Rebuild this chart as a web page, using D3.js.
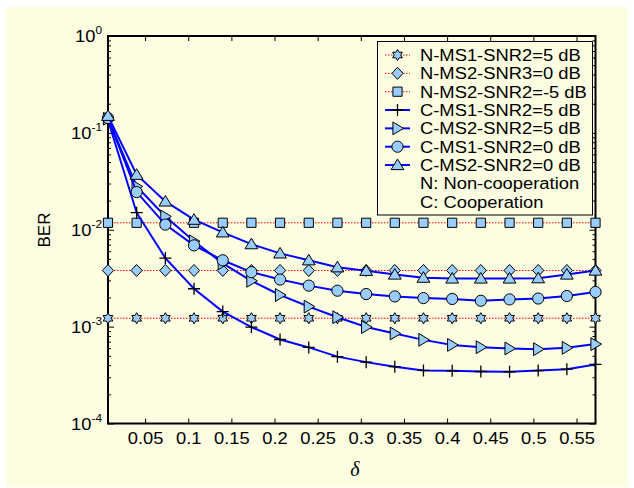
<!DOCTYPE html>
<html>
<head>
<meta charset="utf-8">
<script src="https://cdn.jsdelivr.net/npm/d3@7"></script>
<style>
  body { margin: 0; background: #ffffff; }
  text { font-family: 'Liberation Sans', Arial, sans-serif; }
</style>
</head>
<body>
<div id="chart"></div>
<script>
var width = 634;
var height = 488;
var plotLeft = 108;
var plotRight = 595.5;
var plotTop = 36;
var plotBottom = 423.5;
var bgColor = '#fdfde2';
var faceColor = '#99ccff';
var coopColor = '#0000ff';
var nonCoopColor = '#ff0000';
var textStretch = 'scale(1.08,1)'; // glyphs in the original are a bit wide

// delta values of the 18 simulation points
var delta = [0.0070, 0.0402, 0.0735, 0.1067, 0.1400, 0.1732, 0.2064, 0.2397, 0.2729,
             0.3062, 0.3394, 0.3726, 0.4059, 0.4391, 0.4724, 0.5056, 0.5388, 0.5720];

// non-cooperation (flat)
var berNMs1Snr5 = [1.22e-3, 1.22e-3, 1.22e-3, 1.22e-3, 1.22e-3, 1.22e-3, 1.22e-3, 1.22e-3, 1.22e-3,
                   1.22e-3, 1.22e-3, 1.22e-3, 1.22e-3, 1.22e-3, 1.22e-3, 1.22e-3, 1.22e-3, 1.22e-3];
var berNMs2Snr0 = [3.8e-3, 3.8e-3, 3.8e-3, 3.8e-3, 3.8e-3, 3.8e-3, 3.8e-3, 3.8e-3, 3.8e-3,
                   3.8e-3, 3.8e-3, 3.8e-3, 3.8e-3, 3.8e-3, 3.8e-3, 3.8e-3, 3.8e-3, 3.8e-3];
var berNMs2SnrM5 = [1.18e-2, 1.18e-2, 1.18e-2, 1.18e-2, 1.18e-2, 1.18e-2, 1.18e-2, 1.18e-2, 1.18e-2,
                    1.18e-2, 1.18e-2, 1.18e-2, 1.18e-2, 1.18e-2, 1.18e-2, 1.18e-2, 1.18e-2, 1.18e-2];

// cooperation
var berCMs1Snr5 = [0.135, 1.5e-2, 5.1e-3, 2.46e-3, 1.43e-3, 9.9e-4, 7.36e-4, 6.1e-4, 4.9e-4,
                   4.3e-4, 3.86e-4, 3.53e-4, 3.5e-4, 3.44e-4, 3.42e-4, 3.52e-4, 3.64e-4, 4.07e-4];
var berCMs2Snr5 = [0.14, 2.8e-2, 1.37e-2, 7.6e-3, 4.5e-3, 2.97e-3, 2.12e-3, 1.61e-3, 1.25e-3,
                   9.9e-4, 8.5e-4, 7.3e-4, 6.47e-4, 6.13e-4, 5.95e-4, 5.85e-4, 6.04e-4, 6.6e-4];
var berCMs1Snr0 = [0.142, 2.45e-2, 1.13e-2, 6.9e-3, 4.84e-3, 3.65e-3, 3.06e-3, 2.65e-3, 2.35e-3,
                   2.17e-3, 2.05e-3, 1.97e-3, 1.93e-3, 1.85e-3, 1.91e-3, 1.95e-3, 2.07e-3, 2.28e-3];
var berCMs2Snr0 = [0.15, 3.7e-2, 1.96e-2, 1.27e-2, 9.4e-3, 7.1e-3, 5.7e-3, 4.84e-3, 4.1e-3,
                   3.77e-3, 3.45e-3, 3.2e-3, 3.14e-3, 3.14e-3, 3.14e-3, 3.16e-3, 3.45e-3, 3.79e-3];

var seriesNames = ['N-MS1-SNR2=5 dB', 'N-MS2-SNR3=0 dB', 'N-MS2-SNR2=-5 dB',
                   'C-MS1-SNR2=5 dB', 'C-MS2-SNR2=5 dB', 'C-MS1-SNR2=0 dB', 'C-MS2-SNR2=0 dB'];
var seriesMarkers = ['hexagram', 'diamond', 'square', 'plus', 'triangleRight', 'circle', 'triangleUp'];
var legendNotes = ['N: Non-cooperation', 'C: Cooperation'];

var xTickValues = [0.05, 0.1, 0.15, 0.2, 0.25, 0.3, 0.35, 0.4, 0.45, 0.5, 0.55];
var xTickLabels = ['0.05', '0.1', '0.15', '0.2', '0.25', '0.3', '0.35', '0.4', '0.45', '0.5', '0.55'];
var yDecades = [-4, -3, -2, -1, 0];

var series = [
  { name: seriesNames[0], values: berNMs1Snr5, marker: seriesMarkers[0], coop: false },
  { name: seriesNames[1], values: berNMs2Snr0, marker: seriesMarkers[1], coop: false },
  { name: seriesNames[2], values: berNMs2SnrM5, marker: seriesMarkers[2], coop: false },
  { name: seriesNames[3], values: berCMs1Snr5, marker: seriesMarkers[3], coop: true },
  { name: seriesNames[4], values: berCMs2Snr5, marker: seriesMarkers[4], coop: true },
  { name: seriesNames[5], values: berCMs1Snr0, marker: seriesMarkers[5], coop: true },
  { name: seriesNames[6], values: berCMs2Snr0, marker: seriesMarkers[6], coop: true }
];

// marker shapes centred on 0,0
function markerPath(type) {
  if (type == 'hexagram') {
    var pts = [];
    for (var i = 0; i < 12; i++) {
      var r = i % 2 == 0 ? 5.6 : 3.2;
      var a = (-90 + 30 * i) * Math.PI / 180;
      pts.push([(r * Math.cos(a)).toFixed(2), (r * Math.sin(a)).toFixed(2)]);
    }
    return 'M' + pts.join('L') + 'Z';
  }
  if (type == 'diamond') return 'M0,-6L5.6,0L0,6L-5.6,0Z';
  if (type == 'square') return 'M-4.6,-4.6h9.2v9.2h-9.2Z';
  if (type == 'plus') return 'M-6,0H6M0,-6V6';
  if (type == 'triangleUp') return 'M0,-6L6.4,4.6L-6.4,4.6Z';
  if (type == 'triangleRight') return 'M-4.6,-6.4L6,0L-4.6,6.4Z';
  return d3.symbol().type(d3.symbolCircle).size(Math.PI * 5.6 * 5.6)();
}

function drawMarker(sel, type) {
  sel.append('path')
    .attr('d', markerPath(type))
    .attr('fill', type == 'plus' ? 'none' : faceColor)
    .attr('stroke', '#000')
    .attr('stroke-width', type == 'plus' ? 1.3 : 1);
}

var svg = d3.select('#chart').append('svg')
      .attr('width', width)
      .attr('height', height);

// cream panel
svg.append('rect')
  .attr('x', 6)
  .attr('y', 7)
  .attr('width', 622)
  .attr('height', 480)
  .attr('fill', bgColor);

var xScale = d3.scaleLinear()
      .domain([delta[0], delta[delta.length - 1]])
      .range([plotLeft, plotRight]);

var yScale = d3.scaleLog()
      .domain([1e-4, 1])
      .range([plotBottom, plotTop]);

var majorY = yDecades.map(d => Math.pow(10, d));
var minorY = [];
yDecades.slice(0, -1).forEach(function(d) {
  for (var m = 2; m <= 9; m++) minorY.push(m * Math.pow(10, d));
});

// axes with inward ticks
function styleAxis(g) {
  g.select('.domain').remove();
  g.selectAll('line').attr('stroke', '#000').attr('stroke-width', 1);
}

svg.append('g')
  .attr('transform', 'translate(0,' + plotBottom + ')')
  .call(d3.axisBottom(xScale).tickValues(xTickValues).tickSize(-5).tickPadding(8)
        .tickFormat((d, i) => xTickLabels[i]))
  .call(styleAxis)
  .selectAll('text')
    .attr('fill', '#000')
    .attr('transform', textStretch)
    .style('font-size', '17px')
    .style('font-family', "'Liberation Sans', Arial, sans-serif");

svg.append('g')
  .attr('transform', 'translate(0,' + plotTop + ')')
  .call(d3.axisTop(xScale).tickValues(xTickValues).tickSize(-5).tickFormat(''))
  .call(styleAxis);

svg.append('g')
  .attr('transform', 'translate(' + plotLeft + ',0)')
  .call(d3.axisLeft(yScale).tickValues(majorY).tickSize(-6).tickFormat(''))
  .call(styleAxis);
svg.append('g')
  .attr('transform', 'translate(' + plotLeft + ',0)')
  .call(d3.axisLeft(yScale).tickValues(minorY).tickSize(-3).tickFormat(''))
  .call(styleAxis);
svg.append('g')
  .attr('transform', 'translate(' + plotRight + ',0)')
  .call(d3.axisRight(yScale).tickValues(majorY).tickSize(-6).tickFormat(''))
  .call(styleAxis);
svg.append('g')
  .attr('transform', 'translate(' + plotRight + ',0)')
  .call(d3.axisRight(yScale).tickValues(minorY).tickSize(-3).tickFormat(''))
  .call(styleAxis);

// y tick labels 10^n
yDecades.forEach(function(d) {
  var t = svg.append('text')
        .attr('transform', 'translate(102,' + (yScale(Math.pow(10, d)) + 6) + ') ' + textStretch)
        .attr('text-anchor', 'end')
        .style('font-size', '17px');
  t.append('tspan').text('10');
  t.append('tspan')
    .attr('dy', -8)
    .style('font-size', '11px')
    .text(d == 0 ? '0' : '-' + Math.abs(d));
});

// frame
svg.append('rect')
  .attr('x', plotLeft)
  .attr('y', plotTop)
  .attr('width', plotRight - plotLeft)
  .attr('height', plotBottom - plotTop)
  .attr('fill', 'none')
  .attr('stroke', '#000')
  .attr('stroke-width', 2);

// series
var line = d3.line()
      .x((d, i) => xScale(delta[i]))
      .y(d => yScale(d));

series.forEach(function(s) {
  var g = svg.append('g');
  g.append('path')
    .attr('d', line(s.values))
    .attr('fill', 'none')
    .attr('stroke', s.coop ? coopColor : nonCoopColor)
    .attr('stroke-width', s.coop ? 2 : 1)
    .attr('stroke-dasharray', s.coop ? null : '1.5,1.5');
  s.values.forEach(function(v, i) {
    g.append('g')
      .attr('transform', 'translate(' + xScale(delta[i]) + ',' + yScale(v) + ')')
      .call(drawMarker, s.marker);
  });
});

// legend
var legendX = 377.5;
var legendY = 41.5;
var rowStep = 18.34;
var legend = svg.append('g');
legend.append('rect')
  .attr('x', legendX)
  .attr('y', legendY)
  .attr('width', 215)
  .attr('height', 173.5)
  .attr('fill', bgColor)
  .attr('stroke', '#000')
  .attr('stroke-width', 1);

series.forEach(function(s, i) {
  var cy = 55 + i * rowStep;
  legend.append('line')
    .attr('x1', 385)
    .attr('x2', 410)
    .attr('y1', cy)
    .attr('y2', cy)
    .attr('stroke', s.coop ? coopColor : nonCoopColor)
    .attr('stroke-width', s.coop ? 2 : 1)
    .attr('stroke-dasharray', s.coop ? null : '1.5,1.5');
  legend.append('g')
    .attr('transform', 'translate(397.5,' + cy + ')')
    .call(drawMarker, s.marker);
  legend.append('text')
    .attr('transform', 'translate(420,' + (cy + 6) + ') ' + textStretch)
    .style('font-size', '17px')
    .text(s.name);
});
legendNotes.forEach(function(n, i) {
  legend.append('text')
    .attr('transform', 'translate(420,' + (55 + (7 + i) * rowStep + 6) + ') ' + textStretch)
    .style('font-size', '17px')
    .text(n);
});

// axis titles
svg.append('text')
  .attr('transform', 'translate(50,230) rotate(-90)')
  .attr('text-anchor', 'middle')
  .style('font-size', '17px')
  .text('BER');

svg.append('text')
  .attr('x', 355)
  .attr('y', 476)
  .attr('text-anchor', 'middle')
  .style('font-family', "'Liberation Serif', 'Times New Roman', serif")
  .style('font-style', 'italic')
  .style('font-size', '20px')
  .text('\u03b4');
</script>
</body>
</html>
